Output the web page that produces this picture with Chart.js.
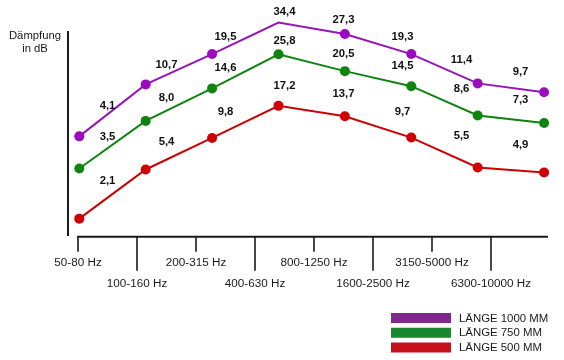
<!DOCTYPE html>
<html><head><meta charset="utf-8">
<script src="https://cdn.jsdelivr.net/npm/chart.js@4/dist/chart.umd.min.js"></script>
<style>html,body{margin:0;padding:0;background:#fff}</style>
</head><body>
<canvas id="c" width="564" height="360"></canvas>
<script>
// frequency bands (x categories)
const bands = ['50-80 Hz','100-160 Hz','200-315 Hz','400-630 Hz','800-1250 Hz','1600-2500 Hz','3150-5000 Hz','6300-10000 Hz'];
const seriesNames = ['LÄNGE 1000 MM','LÄNGE 750 MM','LÄNGE 500 MM'];
const yTitle = ['Dämpfung','in dB'];
// printed attenuation values in dB
const db1000 = [4.1,10.7,19.5,34.4,27.3,19.3,11.4,9.7];
const db750  = [3.5,8.0,14.6,25.8,20.5,14.5,8.6,7.3];
const db500  = [2.1,5.4,9.8,17.2,13.7,9.7,5.5,4.9];
// curve heights as drawn in the schematic (relative units, the picture is not to dB scale)
const level1000 = [49.5,75.4,90.5,106.2,100.5,90.5,75.9,71.5];
const level750  = [33.5,57.2,73.4,90.4,82.0,74.5,59.9,56.2];
const level500  = [8.5,33.0,48.7,64.7,59.5,48.9,34.0,31.5];

const FONT = '"Liberation Sans", Arial, Helvetica, sans-serif';
const fmt = v => v.toFixed(1).replace('.', ',');

function mk(name, levels, labels, line, marker, legendColor, lift){
  return {
    label: name,
    data: levels.map((v,i)=>({x:i, y:v})),
    borderColor: line, backgroundColor: marker,
    pointBackgroundColor: marker, pointBorderColor: marker,
    pointRadius: 5, pointBorderWidth: 0, borderWidth: 2, tension: 0, clip: false,
    valueLabels: labels, labelLift: lift, legendColor: legendColor
  };
}

const decor = {
  id: 'decor',
  afterDraw(chart){
    const {ctx, chartArea, scales} = chart;
    const xt = scales.xt;
    ctx.save();
    // x axis line + alternating tick marks
    ctx.strokeStyle = '#1a1a1a';
    ctx.lineWidth = 2;
    const yl = xt.top + 1;
    ctx.beginPath();
    ctx.moveTo(xt.getPixelForValue(0) - 1, yl);
    ctx.lineTo(chartArea.right, yl);
    ctx.stroke();
    ctx.lineWidth = 1.6;
    xt.ticks.forEach((t, i) => {
      const x = Math.round(xt.getPixelForValue(t.value));
      ctx.beginPath();
      ctx.moveTo(x, yl);
      ctx.lineTo(x, yl + (i % 2 ? 34 : 15));
      ctx.stroke();
    });
    // y title
    ctx.fillStyle = '#1a1a1a';
    ctx.font = '11.3px ' + FONT;
    ctx.textAlign = 'center';
    ctx.textBaseline = 'alphabetic';
    yTitle.forEach((t, i) => ctx.fillText(t, chartArea.left - 33, chartArea.top + 7 + i * 13));
    // value labels, placed between the band ticks above each curve
    ctx.fillStyle = '#111';
    ctx.font = 'bold 11.3px ' + FONT;
    ctx.textBaseline = 'middle';
    chart.data.datasets.forEach((ds, di) => {
      const pts = chart.getDatasetMeta(di).data;
      ds.valueLabels.forEach((v, i) => {
        const x = xt.getPixelForValue(i + 0.5);
        let k = 0;
        while (k < pts.length - 2 && pts[k + 1].x < x) k++;
        const a = pts[k], b = pts[k + 1];
        const lift = ds.labelLift + 1.3 * (i - 3.5);
        const y = a.y + (b.y - a.y) * (x - a.x) / (b.x - a.x) - lift;
        ctx.fillText(fmt(v), x, y);
      });
    });
    // legend
    ctx.font = '11.4px ' + FONT;
    ctx.textAlign = 'left';
    const bx = chart.width - 173;
    chart.data.datasets.forEach((ds, di) => {
      const cy = chart.height - 42 + di * 14.75;
      ctx.fillStyle = ds.legendColor;
      ctx.fillRect(bx, cy - 5, 60, 10);
      ctx.fillStyle = '#1a1a1a';
      ctx.fillText(ds.label, bx + 68, cy + 0.5);
    });
    ctx.restore();
  }
};

new Chart(document.getElementById('c'), {
  type: 'line',
  data: {
    datasets: [
      mk(seriesNames[0], level1000, db1000, '#9614b9', '#9b0abe', '#80288c', 12.8),
      mk(seriesNames[1], level750,  db750,  '#0f820f', '#0f850f', '#19872d', 16),
      mk(seriesNames[2], level500,  db500,  '#cd0000', '#d00000', '#c80f1e', 21.3)
    ]
  },
  options: {
    responsive: false,
    animation: false,
    devicePixelRatio: 1,
    layout: { padding: { left: 68, right: 16, top: 32, bottom: 49 } },
    plugins: { legend: { display: false }, tooltip: { enabled: false } },
    scales: {
      x: { type: 'linear', display: false, min: -0.17, max: 7.059 },
      xt: {
        type: 'linear', position: 'bottom', min: -0.17, max: 7.966,
        afterBuildTicks: s => { s.ticks = bands.map((_, i) => ({ value: i })); },
        grid: { display: false, drawTicks: false },
        border: { display: false },
        ticks: {
          autoSkip: false, maxRotation: 0, minRotation: 0, padding: 16,
          color: '#1a1a1a',
          font: { family: FONT, size: 11.7, lineHeight: 1.85 },
          callback: v => { const i = Math.round(v); return i % 2 === 0 ? [bands[i], ''] : ['', bands[i]]; }
        }
      },
      y: {
        type: 'linear', min: 0, max: 101.5,
        ticks: { display: false },
        grid: { display: false, drawTicks: false },
        border: { display: true, color: '#1a1a1a', width: 2 }
      }
    }
  },
  plugins: [decor]
});
</script>
</body></html>
